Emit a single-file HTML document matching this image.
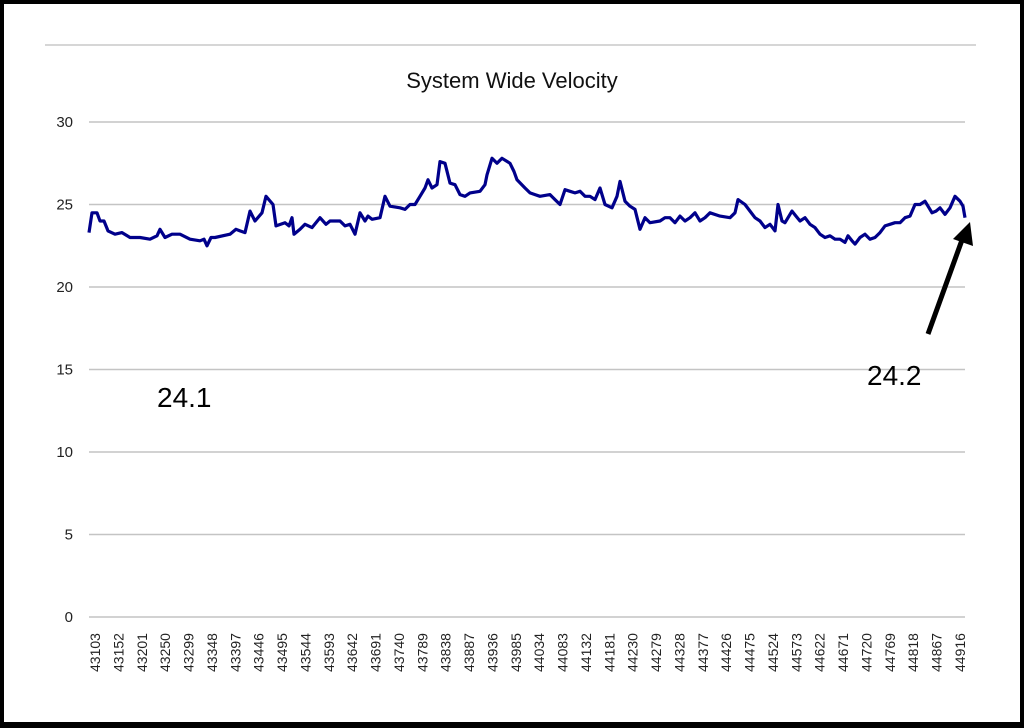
<!DOCTYPE html>
<html><head><style>
html,body{margin:0;padding:0;background:#000;}
svg{display:block;font-family:"Liberation Sans",sans-serif;}
</style></head><body>
<svg id="s" width="1024" height="728" viewBox="0 0 1024 728">
<rect x="4" y="4" width="1016" height="718" fill="#fff"/>
<line x1="45" y1="45" x2="976" y2="45" stroke="#c8c8c8" stroke-width="1.5"/>
<text x="512" y="88" font-size="22" text-anchor="middle" fill="#111">System Wide Velocity</text>
<g id="grid" stroke="#c4c4c4" stroke-width="1.5"></g>
<g id="yl" font-size="15" fill="#222" text-anchor="end"></g>
<g id="xl" font-size="14" fill="#222"></g>
<polyline id="ln" fill="none" stroke="#00008b" stroke-width="3.2" stroke-linejoin="round"/>
<text x="157" y="407" font-size="28" fill="#000">24.1</text>
<text x="867" y="385" font-size="28" fill="#000">24.2</text>
<line x1="928" y1="334" x2="962" y2="240" stroke="#000" stroke-width="5"/>
<polygon points="970,222 973,246 953,239" fill="#000"/>
</svg>
<script>
var ns="http://www.w3.org/2000/svg";
function Y(v){return 617-v*16.5;}
var g=document.getElementById('grid'),yl=document.getElementById('yl'),xl=document.getElementById('xl');
for(var v=0;v<=30;v+=5){var l=document.createElementNS(ns,'line');l.setAttribute('x1',89);l.setAttribute('x2',965);l.setAttribute('y1',Y(v));l.setAttribute('y2',Y(v));g.appendChild(l);
var t=document.createElementNS(ns,'text');t.setAttribute('x',73);t.setAttribute('y',Y(v)+5);t.textContent=v;yl.appendChild(t);}
for(var i=0;i<38;i++){var x=95+i*(865/37);var t=document.createElementNS(ns,'text');t.setAttribute('transform','translate('+(x+5)+',672) rotate(-90)');t.textContent=43103+i*49;xl.appendChild(t);}
var d=[89,23.3,92,24.5,97,24.5,100,24.0,104,24.0,108,23.4,115,23.2,122,23.3,130,23.0,140,23.0,150,22.9,157,23.1,160,23.5,165,23.0,172,23.2,180,23.2,190,22.9,200,22.8,204,22.9,207,22.5,211,23.0,215,23.0,230,23.2,236,23.5,240,23.4,245,23.3,250,24.6,255,24.0,262,24.5,266,25.5,273,25.0,276,23.7,285,23.9,289,23.7,292,24.2,294,23.2,300,23.5,305,23.8,312,23.6,320,24.2,326,23.8,330,24.0,340,24.0,345,23.7,350,23.8,355,23.2,360,24.5,365,24.0,368,24.3,372,24.1,380,24.2,385,25.5,390,24.9,400,24.8,405,24.7,410,25.0,415,25.0,420,25.5,425,26.0,428,26.5,432,26.0,437,26.2,440,27.6,445,27.5,450,26.3,455,26.2,460,25.6,465,25.5,470,25.7,480,25.8,485,26.2,487,26.8,492,27.8,497,27.5,502,27.8,510,27.5,514,27.0,517,26.5,525,26.0,530,25.7,535,25.6,540,25.5,550,25.6,555,25.3,560,25.0,565,25.9,570,25.8,575,25.7,580,25.8,585,25.5,590,25.5,595,25.3,600,26.0,605,25.0,612,24.8,617,25.5,620,26.4,625,25.2,630,24.9,635,24.7,640,23.5,645,24.2,650,23.9,660,24.0,665,24.2,670,24.2,675,23.9,680,24.3,685,24.0,690,24.2,695,24.5,700,24.0,705,24.2,710,24.5,720,24.3,730,24.2,735,24.5,738,25.3,745,25.0,750,24.6,755,24.2,760,24.0,765,23.6,770,23.8,775,23.4,778,25.0,782,24.0,785,23.9,792,24.6,796,24.3,800,24.0,805,24.2,810,23.8,815,23.6,820,23.2,825,23.0,830,23.1,835,22.9,840,22.9,845,22.7,848,23.1,852,22.8,855,22.6,860,23.0,865,23.2,870,22.9,875,23.0,880,23.3,885,23.7,890,23.8,895,23.9,900,23.9,905,24.2,910,24.3,915,25.0,920,25.0,925,25.2,930,24.7,932,24.5,936,24.6,940,24.8,945,24.4,950,24.8,955,25.5,960,25.2,963,24.9,965,24.2];
var p=[];for(var i=0;i<d.length;i+=2)p.push(d[i]+','+Y(d[i+1]).toFixed(1));
document.getElementById('ln').setAttribute('points',p.join(' '));
</script>
</body></html>
